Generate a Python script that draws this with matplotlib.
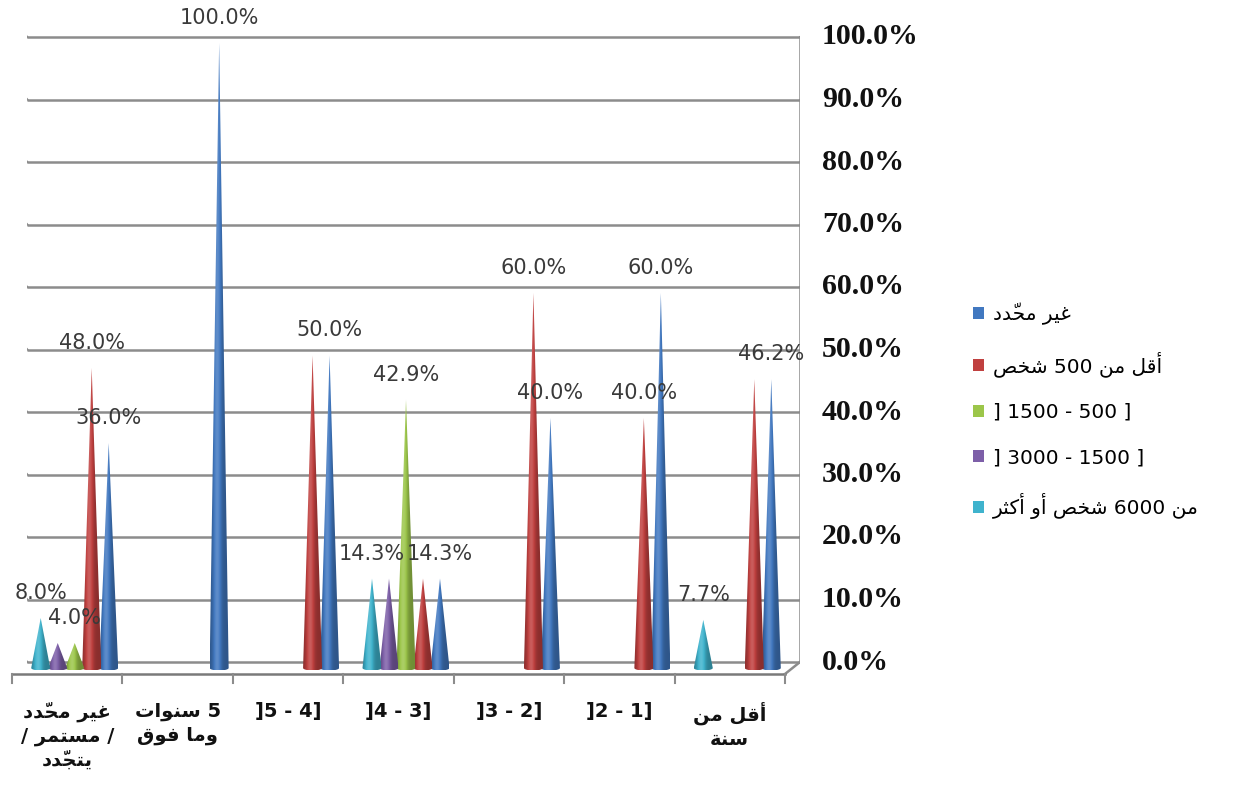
import numpy as np
import matplotlib
matplotlib.use("Agg")
from matplotlib import pyplot as plt
from matplotlib.patches import Polygon, Patch

# categories in logical (right-to-left) order: index 0 is drawn on the right
categories = ["أقل من\nسنة", "]2 - 1]", "]3 - 2]", "]4 - 3]", "]5 - 4]",
              "5 سنوات\nوما فوق", "غير محدّد\n/ مستمر /\nيتجدّد"]

series_names = ["غير محدّد", "أقل من 500 شخص", "] 1500 - 500 ]",
                "] 3000 - 1500 ]", "من 6000 شخص أو أكثر"]

undefined = [46.2, 60.0, 40.0, 14.3, 50.0, 100.0, 36.0]
less_500 = [46.2, 40.0, 60.0, 14.3, 50.0, 0.0, 48.0]
from_500 = [0.0, 0.0, 0.0, 42.9, 0.0, 0.0, 4.0]
from_1500 = [0.0, 0.0, 0.0, 14.3, 0.0, 0.0, 4.0]
over_6000 = [7.7, 0.0, 0.0, 14.3, 0.0, 0.0, 8.0]
series_values = [undefined, less_500, from_500, from_1500, over_6000]

# labels the original chart does not show (series index, category index)
hidden_labels = {(1, 0), (1, 3), (3, 3), (1, 4), (3, 6)}

y_ticks = list(range(0, 101, 10))

colors = ["#4178c0", "#c0403f", "#9cc64a", "#7d5fa8", "#3fb3cd"]

# ---- minimal Arabic shaping (presentation forms, visual order) ----
FORMS = {
    "ا": (0xFE8D, 0xFE8E, None, None),
    "أ": (0xFE83, 0xFE84, None, None),
    "ة": (0xFE93, 0xFE94, None, None),
    "ت": (0xFE95, 0xFE96, 0xFE97, 0xFE98),
    "ث": (0xFE99, 0xFE9A, 0xFE9B, 0xFE9C),
    "ج": (0xFE9D, 0xFE9E, 0xFE9F, 0xFEA0),
    "ح": (0xFEA1, 0xFEA2, 0xFEA3, 0xFEA4),
    "خ": (0xFEA5, 0xFEA6, 0xFEA7, 0xFEA8),
    "د": (0xFEA9, 0xFEAA, None, None),
    "ر": (0xFEAD, 0xFEAE, None, None),
    "س": (0xFEB1, 0xFEB2, 0xFEB3, 0xFEB4),
    "ش": (0xFEB5, 0xFEB6, 0xFEB7, 0xFEB8),
    "ص": (0xFEB9, 0xFEBA, 0xFEBB, 0xFEBC),
    "غ": (0xFECD, 0xFECE, 0xFECF, 0xFED0),
    "ف": (0xFED1, 0xFED2, 0xFED3, 0xFED4),
    "ق": (0xFED5, 0xFED6, 0xFED7, 0xFED8),
    "ك": (0xFED9, 0xFEDA, 0xFEDB, 0xFEDC),
    "ل": (0xFEDD, 0xFEDE, 0xFEDF, 0xFEE0),
    "م": (0xFEE1, 0xFEE2, 0xFEE3, 0xFEE4),
    "ن": (0xFEE5, 0xFEE6, 0xFEE7, 0xFEE8),
    "و": (0xFEED, 0xFEEE, None, None),
    "ي": (0xFEF1, 0xFEF2, 0xFEF3, 0xFEF4),
}
MARKS = "\u0651"


def shape_word(word):
    clusters = []
    for ch in word:
        if ch in MARKS and clusters:
            clusters[-1][1] += ch
        else:
            clusters.append([ch, ""])
    out = []
    for j, (ch, marks) in enumerate(clusters):
        f = FORMS.get(ch)
        if f is None:
            out.append(ch + marks)
            continue
        prev = FORMS.get(clusters[j - 1][0]) if j > 0 else None
        nxt = FORMS.get(clusters[j + 1][0]) if j + 1 < len(clusters) else None
        join_prev = prev is not None and prev[2] is not None
        join_next = nxt is not None and f[2] is not None
        if join_prev and join_next:
            g = f[3]
        elif join_prev:
            g = f[1]
        elif join_next:
            g = f[2]
        else:
            g = f[0]
        out.append(chr(g) + marks)
    return "".join(reversed(out))


def rtl(text):
    lines = []
    for line in text.split("\n"):
        if any(c in FORMS for c in line):
            tokens = line.split(" ")
            line = " ".join(shape_word(t) if any(c in FORMS for c in t) else t
                            for t in reversed(tokens))
        lines.append(line)
    return "\n".join(lines)


# ---- figure ----
W, H = 1233, 793
fig = plt.figure(figsize=(W / 100, H / 100), dpi=100)
ax = fig.add_axes([27 / W, 1 - 687 / H, 773 / W, 675 / H])
n = len(categories)
ax.set_xlim(n - 0.5, -0.5)
ax.set_ylim(-4, 104)
ax.axis("off")

px_x = 773 / n
px_y = 675 / 108
depth_x = 15 / px_x     # towards the front (left on inverted axis)
depth_y = -12 / px_y
grid_c = "#8c8c8c"

# back wall grid lines with the short left side wall
for v in y_ticks:
    ax.plot([n - 0.5, -0.5], [v, v], color=grid_c, lw=1.8, zorder=1,
            solid_capstyle="butt")
    ax.plot([n - 0.5, n - 0.5 + depth_x], [v, v + depth_y], color=grid_c,
            lw=1.8, zorder=1)
    ax.plot([-0.5, -0.5 - 12 / px_x], [v, v], color=grid_c, lw=1.5, zorder=1)
    ax.text(-0.5 - 22 / px_x, v, f"{v:.1f}%", ha="left", va="center",
            family="Liberation Serif", weight="bold", fontsize=21.5, color="#111111")

ax.plot([-0.5, -0.5], [0, 100], color=grid_c, lw=1.8, zorder=1)
# floor
ax.plot([-0.5, -0.5 + depth_x], [0, depth_y], color=grid_c, lw=1.8, zorder=2)
ax.plot([n - 0.5 + depth_x, -0.5 + depth_x], [depth_y, depth_y], color="#7a7a7a",
        lw=1.8, zorder=2, clip_on=False)
for b in range(n + 1):
    xb = b - 0.5 + depth_x
    ax.plot([xb, xb], [depth_y, depth_y - 9 / px_y], color=grid_c, lw=1.5,
            zorder=2, clip_on=False)

# cones
slot = 17 / px_x
hw = 9.5 / px_x
eh = 2.5 / px_y
base = depth_y / 2
t = np.linspace(-1, 1, 60)
shade = 0.72 + 0.45 * np.exp(-((t + 0.25) / 0.45) ** 2)

for k, vals in enumerate(series_values):
    rgb = np.array(matplotlib.colors.to_rgb(colors[k]))
    row = np.array([np.clip(rgb * s if s <= 1 else rgb + (1 - rgb) * (s - 1) * 0.9, 0, 1)
                    for s in shade])
    img = np.repeat(row[np.newaxis, :, :], 4, axis=0)
    for i, v in enumerate(vals):
        if v <= 0:
            continue
        xc = i + (k - 2) * slot + depth_x / 2
        ang = np.linspace(0, np.pi, 20)
        pts = [(xc + hw, base), (xc, v + base), (xc - hw, base)]
        pts += [(xc - hw * np.cos(a), base - eh * np.sin(a)) for a in ang]
        poly = Polygon(pts, closed=True, facecolor="none", edgecolor="none")
        ax.add_patch(poly)
        im = ax.imshow(img, extent=(xc + hw, xc - hw, base - eh, v + base),
                       aspect="auto", zorder=3, interpolation="bilinear")
        im.set_clip_path(poly)
        if (k, i) not in hidden_labels:
            ax.text(xc, v + base + 25 / px_y, f"{v:.1f}%", ha="center",
                    va="center", fontsize=15, color="#3a3a3a", zorder=5)

ax.set_xlim(n - 0.5, -0.5)
ax.set_ylim(-4, 104)

# category labels
for i, cat in enumerate(categories):
    ax.text(i + depth_x, depth_y - 28 / px_y, rtl(cat), ha="center", va="top",
            fontsize=14, weight="bold", family=["DejaVu Sans"], linespacing=1.3,
            color="#111111", clip_on=False)

handles = [Patch(facecolor=c, edgecolor="none") for c in colors]
fig.legend(handles, [rtl(s) for s in series_names], loc="center left",
           bbox_to_anchor=(955 / W, 1 - 411 / H), frameon=False,
           prop=dict(family=["DejaVu Sans"], size=14.5), handlelength=0.55,
           handleheight=0.55, handletextpad=0.45, labelspacing=1.3)

fig.savefig("out.png", dpi=100)
